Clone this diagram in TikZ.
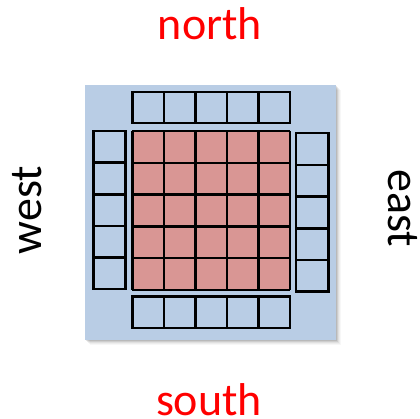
\documentclass[tikz,border=0pt]{standalone}
\usepackage{fontspec}
\setmainfont{Carlito}
\definecolor{panelblue}{HTML}{B9CDE5}
\definecolor{cellred}{HTML}{D99694}
\definecolor{labelred}{HTML}{FF0000}
\begin{document}
\begin{tikzpicture}[x=1pt,y=-1pt,
  cellline/.style={line width=2.4pt, line join=miter},
  halo/.style={font=\fontsize{46}{50}\selectfont, inner sep=0pt, anchor=base},
  ]
\useasboundingbox (0,0) rectangle (420,419);
% soft shadow behind the panel
\foreach \o/\a in {1/0.10,2/0.08,3/0.06,4/0.04,5/0.03}
  \fill[black, opacity=\a] (85+\o,85+\o) rectangle (336+\o,340+\o);
% panel
\fill[panelblue] (85,85) rectangle (336,340);
% central 5x5 block
\def\cw{31.54}
\fill[cellred] (132.3,131) rectangle (290,290);
\foreach \i in {0,...,5} {
  \draw[cellline] (132.3+\i*\cw,131) -- (132.3+\i*\cw,290);
  \draw[cellline] (132.3,131+\i*31.8) -- (290,131+\i*31.8);
}
% north halo row
\foreach \i in {0,...,4}
  \draw[cellline, fill=panelblue] (132.3+\i*\cw,92) rectangle ++(\cw,31.3);
% south halo row
\foreach \i in {0,...,4}
  \draw[cellline, fill=panelblue] (132.3+\i*\cw,296.5) rectangle ++(\cw,31.8);
% west halo column
\foreach \i in {0,...,4}
  \draw[cellline, fill=panelblue] (93.3,131+\i*31.66) rectangle ++(32,31.66);
% east halo column
\foreach \i in {0,...,4}
  \draw[cellline, fill=panelblue] (296,133.3+\i*31.68) rectangle ++(32.3,31.68);
% direction labels
\node[halo, text=labelred] (north) at (210,39.3) {north};
\node[halo, text=labelred] (south) at (209,415) {south};
\node[halo, rotate=90] (west) at (41.7,210) {west};
\node[halo, rotate=-90] (east) at (388,208) {east};
\end{tikzpicture}
\end{document}
